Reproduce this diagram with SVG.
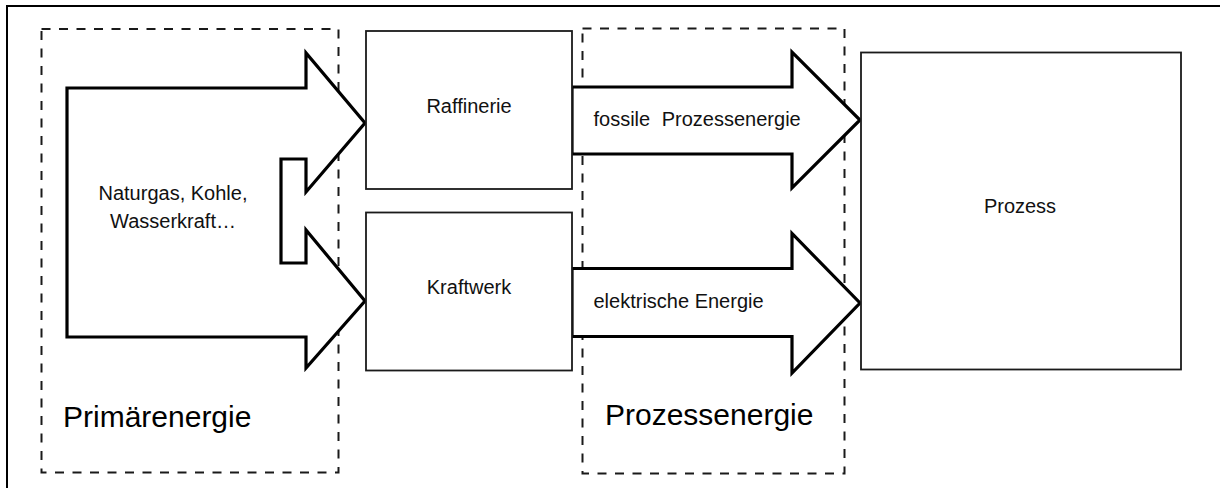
<svg xmlns="http://www.w3.org/2000/svg" width="1220" height="488" viewBox="0 0 1220 488">
  <style>
    .frame { fill: none; stroke: #000; stroke-width: 2; }
    .zone { fill: none; stroke: #1a1a1a; stroke-width: 2; stroke-dasharray: 9 8.5; }
    .box { fill: #fff; stroke: #1a1a1a; stroke-width: 1.8; }
    .flow { fill: #fff; stroke: #000; stroke-width: 3.2; stroke-linejoin: miter; stroke-miterlimit: 10; }
    .lbl { font-family: "Liberation Sans", Arial, sans-serif; font-size: 20px; fill: #111; }
    .big { font-family: "Liberation Sans", Arial, sans-serif; font-size: 30px; fill: #000; }
  </style>

  <rect width="1220" height="488" fill="#fff"/>
  <!-- outer frame (right and bottom edges run past the canvas) -->
  <rect class="frame" x="7" y="6" width="1230" height="500"/>

  <!-- zones -->
  <g id="zone-primaer">
    <rect class="zone" x="41.5" y="29" width="297" height="443.5"/>
    <text class="big" x="63" y="426.5">Primärenergie</text>
  </g>
  <g id="zone-prozessenergie">
    <rect class="zone" x="582.5" y="28.5" width="262" height="445"/>
    <text class="big" x="605" y="425">Prozessenergie</text>
  </g>

  <!-- connectors: block arrows -->
  <g id="connectors">
    <g id="flow-primaer">
      <polygon class="flow" points="67,88 306,88 306,53 365,123 306,192 306,159 281,159 281,263 306,263 306,230 365,301 306,368 306,337 67,337"/>
      <text class="lbl" x="173" y="200" text-anchor="middle">Naturgas, Kohle,</text>
      <text class="lbl" x="173" y="228" text-anchor="middle">Wasserkraft…</text>
    </g>
    <g id="flow-fossil">
      <polygon class="flow" points="572,87 792,87 792,52 860,120 792,188 792,154 572,154"/>
      <text class="lbl" x="593.5" y="126" word-spacing="6">fossile Prozessenergie</text>
    </g>
    <g id="flow-elektrisch">
      <polygon class="flow" points="572,268.5 792,268.5 792,233.5 860,303 792,373 792,336.5 572,336.5"/>
      <text class="lbl" x="593.5" y="308">elektrische Energie</text>
    </g>
  </g>

  <!-- nodes -->
  <g id="raffinerie">
    <rect class="box" x="366" y="31" width="206" height="158"/>
    <text class="lbl" x="469" y="113" text-anchor="middle">Raffinerie</text>
  </g>
  <g id="kraftwerk">
    <rect class="box" x="366" y="212.5" width="206" height="158"/>
    <text class="lbl" x="469" y="294" text-anchor="middle">Kraftwerk</text>
  </g>
  <g id="prozess">
    <rect class="box" x="861" y="52.5" width="320" height="317"/>
    <text class="lbl" x="1020" y="213" text-anchor="middle">Prozess</text>
  </g>
</svg>
